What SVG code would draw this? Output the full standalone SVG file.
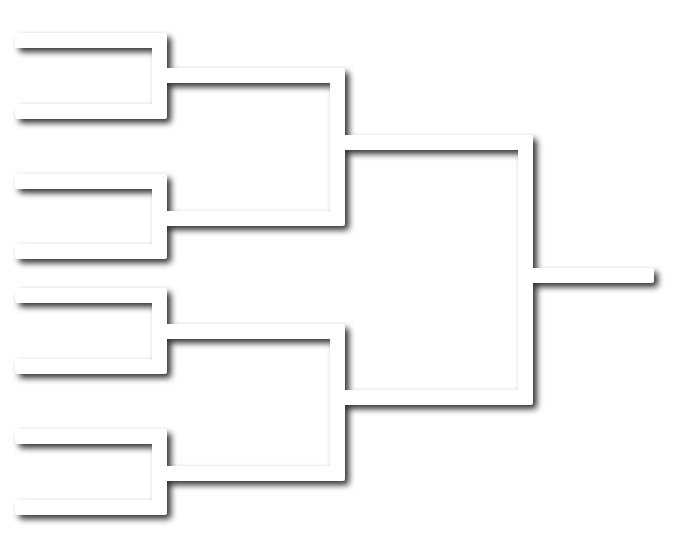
<svg xmlns="http://www.w3.org/2000/svg" width="674" height="534" viewBox="0 0 674 534">
<defs>
<filter id="sh" x="-10%" y="-10%" width="130%" height="130%">
<feGaussianBlur in="SourceAlpha" stdDeviation="3.2"/>
<feOffset dx="4" dy="4" result="b"/>
<feFlood flood-color="#000" flood-opacity="0.8"/>
<feComposite in2="b" operator="in"/>
<feMerge><feMergeNode/><feMergeNode in="SourceGraphic"/></feMerge>
</filter>
<style>
.br{fill:#ffffff;stroke:none}
</style>
</defs>
<rect width="674" height="534" fill="#ffffff"/>
<g id="bracket" filter="url(#sh)">
<g id="connectors">
<path class="br" d="M338 135 H530 Q533 135 533 138 V402 Q533 405 530 405 H338 V390 H518 V150 H338 Z"/>
<path class="br" d="M525 268 H651 Q654 268 654 271 V280 Q654 283 651 283 H525 Z"/>
<path class="br" d="M160 68 H342 Q345 68 345 71 V223 Q345 226 342 226 H160 V211 H330 V83 H160 Z"/>
<path class="br" d="M160 324 H342 Q345 324 345 327 V478 Q345 481 342 481 H160 V466 H330 V339 H160 Z"/>
</g>
<g id="node-a"><path class="br" d="M18 33 H164 Q167 33 167 36 V116 Q167 119 164 119 H18 Q15 119 15 116 V107 Q15 104 18 104 H152 V48 H18 Q15 48 15 45 V36 Q15 33 18 33 Z"/></g>
<g id="node-b"><path class="br" d="M18 174 H164 Q167 174 167 177 V256 Q167 259 164 259 H18 Q15 259 15 256 V247 Q15 244 18 244 H152 V189 H18 Q15 189 15 186 V177 Q15 174 18 174 Z"/></g>
<g id="node-c"><path class="br" d="M18 288 H164 Q167 288 167 291 V371 Q167 374 164 374 H18 Q15 374 15 371 V362 Q15 359 18 359 H152 V303 H18 Q15 303 15 300 V291 Q15 288 18 288 Z"/></g>
<g id="node-d"><path class="br" d="M18 429 H164 Q167 429 167 432 V512 Q167 515 164 515 H18 Q15 515 15 512 V503 Q15 500 18 500 H152 V444 H18 Q15 444 15 441 V432 Q15 429 18 429 Z"/></g>
</g>
</svg>
